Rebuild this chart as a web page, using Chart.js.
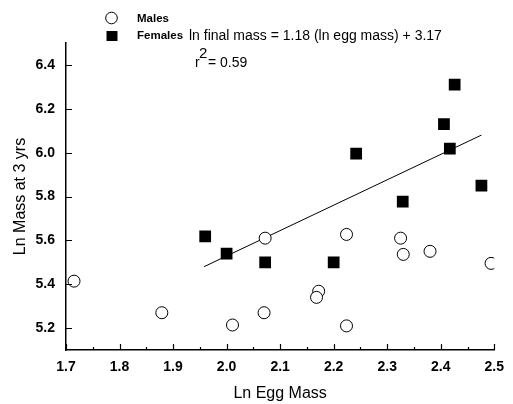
<!DOCTYPE html>
<html>
<head>
<meta charset="utf-8">
<script src="https://cdn.jsdelivr.net/npm/chart.js@4"></script>
<style>
  html, body { margin: 0; padding: 0; background: #fff; }
  #wrap { width: 513px; height: 404px; }
</style>
</head>
<body>
<div id="wrap"><canvas id="chart" width="513" height="404"></canvas></div>
<script>
const maleX = [1.715, 1.879, 2.011, 2.07, 2.072, 2.172, 2.168, 2.224, 2.224, 2.325, 2.33, 2.38, 2.494];
const maleY = [5.414, 5.27, 5.214, 5.27, 5.61, 5.368, 5.34, 5.21, 5.627, 5.61, 5.536, 5.55, 5.495];
const femaleX = [1.96, 2.0, 2.072, 2.2, 2.242, 2.329, 2.406, 2.417, 2.426, 2.476];
const femaleY = [5.618, 5.54, 5.50, 5.50, 5.995, 5.777, 6.13, 6.018, 6.31, 5.85];
const fitX = [1.958, 2.476];
const fitY = [5.48, 6.08];
const xTicks = [1.7, 1.8, 1.9, 2.0, 2.1, 2.2, 2.3, 2.4, 2.5];
const yTicks = [5.2, 5.4, 5.6, 5.8, 6.0, 6.2, 6.4];

const FONT = "'Liberation Sans', Arial, sans-serif";

const toPoints = (xs, ys) => xs.map((x, i) => ({ x: x, y: ys[i] }));

// tick marks pointing into the plot, like the original figure
const inwardTicks = {
    id: "inwardTicks",
    afterDraw(chart) {
        const ctx = chart.ctx;
        const xs = chart.scales.x;
        const ys = chart.scales.y;
        const area = chart.chartArea;
        ctx.save();
        ctx.strokeStyle = "#000";
        ctx.lineWidth = 1.2;
        ctx.beginPath();
        xTicks.forEach((v, i) => {
            const px = Math.round(xs.getPixelForValue(v)) + 0.5;
            ctx.moveTo(px, area.bottom);
            ctx.lineTo(px, area.bottom - 6);
            if (i < xTicks.length - 1) {
                const mx = Math.round(xs.getPixelForValue((v + xTicks[i + 1]) / 2)) + 0.5;
                ctx.moveTo(mx, area.bottom);
                ctx.lineTo(mx, area.bottom - 3);
            }
        });
        yTicks.forEach(v => {
            const py = Math.round(ys.getPixelForValue(v)) + 0.5;
            ctx.moveTo(area.left, py);
            ctx.lineTo(area.left + 6, py);
        });
        ctx.stroke();
        ctx.restore();
    }
};

// legend + regression text in the top-left corner
const legendText = {
    id: "legendText",
    afterDraw(chart) {
        const ctx = chart.ctx;
        ctx.save();
        ctx.strokeStyle = "#000";
        ctx.lineWidth = 1;
        ctx.beginPath();
        ctx.arc(111.5, 18, 5.8, 0, Math.PI * 2);
        ctx.fillStyle = "#fff";
        ctx.fill();
        ctx.stroke();
        ctx.fillStyle = "#000";
        ctx.fillRect(106.5, 31, 11, 10);

        ctx.textBaseline = "middle";
        ctx.textAlign = "left";
        ctx.font = "bold 11.5px " + FONT;
        ctx.fillText("Males", 137, 19);
        ctx.fillText("Females", 137, 36);
        ctx.font = "14px " + FONT;
        ctx.fillText("ln final mass = 1.18 (ln egg mass) + 3.17", 189, 36);

        ctx.textBaseline = "alphabetic";
        ctx.fillText("r", 195, 67);
        ctx.font = "15px " + FONT;
        ctx.fillText("2", 199, 58);
        ctx.font = "14px " + FONT;
        ctx.fillText("= 0.59", 208, 67);
        ctx.restore();
    }
};

new Chart(document.getElementById("chart").getContext("2d"), {
    type: "scatter",
    data: {
        datasets: [
            {
                label: "Fit",
                type: "line",
                data: toPoints(fitX, fitY),
                borderColor: "#000",
                borderWidth: 1,
                pointRadius: 0,
                fill: false,
                order: 3,
            },
            {
                label: "Males",
                data: toPoints(maleX, maleY),
                pointStyle: "circle",
                pointRadius: 6,
                backgroundColor: "#fff",
                borderColor: "#000",
                borderWidth: 1,
                order: 2,
            },
            {
                label: "Females",
                data: toPoints(femaleX, femaleY),
                pointStyle: "rect",
                pointRadius: 8.3,
                backgroundColor: "#000",
                borderColor: "#000",
                borderWidth: 0,
                order: 1,
            },
        ],
    },
    options: {
        responsive: false,
        animation: false,
        layout: { padding: { top: 43, right: 13, left: 0, bottom: 0 } },
        plugins: {
            legend: { display: false },
            tooltip: { enabled: false },
        },
        scales: {
            x: {
                type: "linear",
                min: 1.7,
                max: 2.5,
                afterBuildTicks: s => { s.ticks = xTicks.map(v => ({ value: v })); },
                afterFit: s => { s.height = 54; },
                grid: { display: false, drawTicks: false },
                border: { display: true, color: "#000", width: 1.5 },
                ticks: {
                    color: "#000",
                    padding: 9,
                    maxRotation: 0,
                    font: { family: FONT, size: 14, weight: "bold" },
                    callback: v => Number(v).toFixed(1),
                },
                title: {
                    display: true,
                    text: "Ln Egg Mass",
                    color: "#000",
                    font: { family: FONT, size: 16 },
                    padding: { top: 0, bottom: 1 },
                },
            },
            y: {
                type: "linear",
                min: 5.1,
                max: 6.5,
                afterBuildTicks: s => { s.ticks = yTicks.map(v => ({ value: v })); },
                afterFit: s => { s.width = 66; },
                grid: { display: false, drawTicks: false },
                border: { display: true, color: "#000", width: 1.5 },
                ticks: {
                    color: "#000",
                    padding: 11,
                    font: { family: FONT, size: 14, weight: "bold" },
                    callback: v => Number(v).toFixed(1),
                },
                title: {
                    display: true,
                    text: "Ln Mass at 3 yrs",
                    color: "#000",
                    font: { family: FONT, size: 16 },
                    padding: { top: 11, bottom: 0 },
                },
            },
        },
    },
    plugins: [inwardTicks, legendText],
});
</script>
</body>
</html>
